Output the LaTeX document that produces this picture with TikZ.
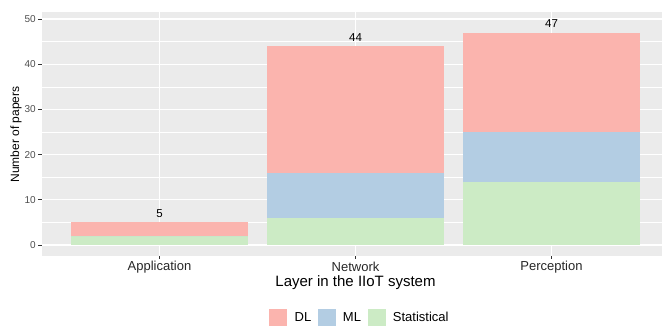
\documentclass[tikz,border=0pt]{standalone}
\usepackage{fontspec}
\setmainfont{Liberation Sans}
\usetikzlibrary{positioning}

\definecolor{dlfill}{HTML}{FBB4AE}
\definecolor{mlfill}{HTML}{B3CDE3}
\definecolor{statfill}{HTML}{CCEBC5}
\definecolor{panelbg}{HTML}{EBEBEB}
\definecolor{axtext}{HTML}{4D4D4D}
\definecolor{axtick}{HTML}{333333}

\begin{document}
\begin{tikzpicture}[x=1pt, y=-1pt,
    major/.style={white, line width=1.1pt},
    minor/.style={white, line width=0.55pt},
    tickmark/.style={axtick, line width=0.8pt},
    ylab/.style={anchor=east, inner sep=0pt, text=axtext, font=\fontsize{10}{12}\selectfont},
    xlab/.style={inner sep=0pt, text=black!85, font=\fontsize{13}{15}\selectfont},
    countlab/.style={inner sep=0pt, font=\fontsize{11.5}{13}\selectfont},
    keybox/.style={inner sep=0pt, minimum width=17.5pt, minimum height=17.5pt},
    keytext/.style={anchor=west, inner sep=0pt, font=\fontsize{13}{15}\selectfont}]
    \useasboundingbox (0,0) rectangle (662,327);

    % panel
    \fill[panelbg] (42,12) rectangle (662,256);

    % data area: x in categories, y in papers
    \begin{scope}[shift={(-36.5,245)}, x=196pt, y=4.52pt]
        \foreach \v in {5,15,...,45}
            \draw[minor] (0.4,\v) -- (3.6,\v);
        \foreach \v in {0,10,...,50}
            \draw[major] (0.4,\v) -- (3.6,\v);
        \foreach \i in {1,2,3}
            \draw[major] (\i,-2.43) -- (\i,51.55);

        % stacked bars: statistical top / ML top / total
        \foreach \i/\a/\b/\c in {1/2/2/5, 2/6/16/44, 3/14/25/47} {
            \fill[statfill] (\i-0.45,0) rectangle (\i+0.45,\a);
            \fill[mlfill] (\i-0.45,\a) rectangle (\i+0.45,\b);
            \fill[dlfill] (\i-0.45,\b) rectangle (\i+0.45,\c);
            \node[countlab] (total-\i) at (\i,\c+2) {\c};
        }

        % axes
        \foreach \v in {0,10,...,50} {
            \coordinate (yt-\v) at (0.4,\v);
            \draw[tickmark] (yt-\v) -- ++(-3.7pt,0);
            \node[ylab] (ylab-\v) at ([xshift=-6pt]yt-\v) {\v};
        }
        \foreach \i/\name in {1/Application, 2/Network, 3/Perception} {
            \coordinate (xt-\i) at (\i,-2.43);
            \draw[tickmark] (xt-\i) -- ++(0,-3.5pt);
            \node[xlab] (xlab-\i) at ([yshift=-11pt]xt-\i) {\name};
        }
    \end{scope}

    \node[inner sep=0pt, rotate=90, font=\fontsize{12}{14}\selectfont] (ytitle) at (16,134.5) {Number of papers};
    \node[inner sep=0pt, font=\fontsize{15}{17}\selectfont] (xtitle) at (355.5,283) {Layer in the IIoT system};

    % legend
    \node[keybox, fill=dlfill] (key-dl) at (278,317.3) {};
    \node[keytext, right=7.5pt of key-dl] (txt-dl) {DL};
    \node[keybox, fill=mlfill] (key-ml) at (326.8,317.3) {};
    \node[keytext, right=7pt of key-ml] (txt-ml) {ML};
    \node[keybox, fill=statfill] (key-stat) at (376.8,317.3) {};
    \node[keytext, right=7pt of key-stat] (txt-stat) {Statistical};
\end{tikzpicture}
\end{document}
